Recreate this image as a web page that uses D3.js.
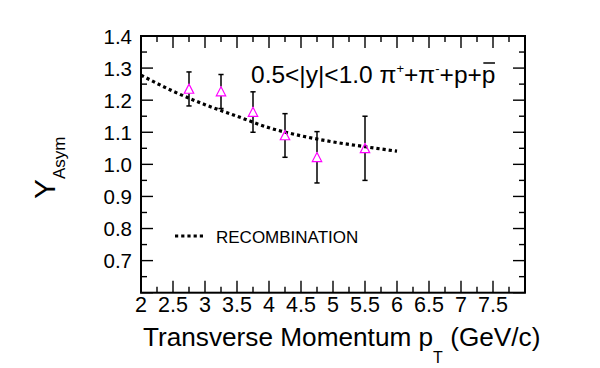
<!DOCTYPE html>
<html>
<head>
<meta charset="utf-8" />
<title>Y asym vs pT</title>
<script src="https://cdnjs.cloudflare.com/ajax/libs/d3/7.8.5/d3.min.js"></script>
<style>
html, body { margin: 0; padding: 0; background: #fff; }
svg { display: block; }
text { font-family: "Liberation Sans", Arial, Helvetica, sans-serif; fill: #000; }
</style>
</head>
<body>
<svg id="chart" width="600" height="368"></svg>
<script>
// data points (open triangles)
var ptVals = [2.75, 3.25, 3.75, 4.25, 4.75, 5.5];
var yVals = [1.235, 1.227, 1.163, 1.090, 1.022, 1.050];
var yErrs = [0.053, 0.053, 0.063, 0.068, 0.080, 0.100];

// recombination curve
var recoPt = [2.0, 2.5, 3.0, 3.5, 4.0, 4.5, 5.0, 5.5, 6.0];
var recoY = [1.278, 1.228, 1.186, 1.150, 1.114, 1.089, 1.070, 1.055, 1.041];

var xTicks = [2, 2.5, 3, 3.5, 4, 4.5, 5, 5.5, 6, 6.5, 7, 7.5];
var yTicks = [0.7, 0.8, 0.9, 1.0, 1.1, 1.2, 1.3, 1.4];

var svg = d3.select("#chart");

var x = d3.scaleLinear().domain([2, 8]).range([141, 525]);
var y = d3.scaleLinear().domain([0.6, 1.4]).range([292.7, 36]);

var L = x.range()[0], R = x.range()[1], T = y.range()[1], B = y.range()[0];

// ticks, ROOT style (inward, mirrored)
var g = svg.append("g").attr("stroke", "#000").attr("stroke-width", 1.4);
d3.range(0, 25).forEach(function(i) {
  var v = 2 + i * 0.25;
  var len = (i % 2 === 0) ? 12 : 6;
  g.append("line").attr("x1", x(v)).attr("x2", x(v)).attr("y1", B).attr("y2", B - len);
  g.append("line").attr("x1", x(v)).attr("x2", x(v)).attr("y1", T).attr("y2", T + len);
});
d3.range(0, 17).forEach(function(i) {
  var v = 0.6 + i * 0.05;
  var len = (i % 2 === 0) ? 12 : 6;
  g.append("line").attr("y1", y(v)).attr("y2", y(v)).attr("x1", L).attr("x2", L + len);
  g.append("line").attr("y1", y(v)).attr("y2", y(v)).attr("x1", R).attr("x2", R - len);
});

// frame
svg.append("rect")
  .attr("x", L).attr("y", T).attr("width", R - L).attr("height", B - T)
  .attr("fill", "none").attr("stroke", "#000").attr("stroke-width", 2);

// tick labels
svg.append("g").selectAll("text").data(xTicks).join("text")
  .attr("x", function(d) { return x(d); })
  .attr("y", B + 19)
  .attr("text-anchor", "middle")
  .attr("font-size", 21.5)
  .text(function(d) { return d; });

svg.append("g").selectAll("text").data(yTicks).join("text")
  .attr("x", L - 9)
  .attr("y", function(d) { return y(d) + 7.5; })
  .attr("text-anchor", "end")
  .attr("font-size", 20.5)
  .text(function(d) { return d3.format(".1f")(d); });

// axis titles
var xt = svg.append("text").attr("x", 143).attr("y", 346).attr("font-size", 26.2);
xt.append("tspan").text("Transverse Momentum p");
xt.append("tspan").attr("font-size", 16).attr("dy", 17).text("T");
xt.append("tspan").attr("dy", -17).text(" (GeV/c)");

var yt = svg.append("text").attr("transform", "translate(55,199) rotate(-90)").attr("font-size", 30);
yt.append("tspan").text("Y");
yt.append("tspan").attr("font-size", 17).attr("dy", 10).text("Asym");

// recombination curve
var line = d3.line()
  .x(function(d, i) { return x(recoPt[i]); })
  .y(function(d) { return y(d); })
  .curve(d3.curveMonotoneX);

svg.append("path")
  .attr("d", line(recoY))
  .attr("fill", "none")
  .attr("stroke", "#000")
  .attr("stroke-width", 3.2)
  .attr("stroke-dasharray", "3.2,3");

// error bars (not drawn through the marker)
var eb = svg.append("g").attr("stroke", "#000").attr("stroke-width", 1.5);
ptVals.forEach(function(p, i) {
  var cx = x(p), cy = y(yVals[i]);
  var top = y(yVals[i] + yErrs[i]), bot = y(yVals[i] - yErrs[i]);
  eb.append("line").attr("x1", cx).attr("x2", cx).attr("y1", top).attr("y2", cy - 5);
  eb.append("line").attr("x1", cx).attr("x2", cx).attr("y1", cy + 4.5).attr("y2", bot);
  eb.append("line").attr("x1", cx - 2.6).attr("x2", cx + 2.6).attr("y1", top).attr("y2", top);
  eb.append("line").attr("x1", cx - 2.6).attr("x2", cx + 2.6).attr("y1", bot).attr("y2", bot);
});

// markers
svg.append("g").selectAll("path").data(ptVals).join("path")
  .attr("transform", function(d, i) { return "translate(" + x(d) + "," + y(yVals[i]) + ")"; })
  .attr("d", "M0,-4.8L4.7,4.3L-4.7,4.3Z")
  .attr("fill", "none")
  .attr("stroke", "#ff00ff")
  .attr("stroke-width", 1.2);

// label
var lab = svg.append("text").attr("x", 251).attr("y", 83).attr("font-size", 24.5);
lab.append("tspan").text("0.5<|y|<1.0 \u03c0");
lab.append("tspan").attr("font-size", 13).attr("dy", -10).text("+");
lab.append("tspan").attr("dy", 10).text("+\u03c0");
lab.append("tspan").attr("font-size", 13).attr("dy", -10).text("-");
lab.append("tspan").attr("dy", 10).text("+p+");
var labEnd = 251 + lab.node().getComputedTextLength();
var pbar = svg.append("text").attr("x", labEnd).attr("y", 83).attr("font-size", 24.5).text("p");
var pw = pbar.node().getComputedTextLength();
svg.append("line")
  .attr("x1", labEnd + 1.5).attr("x2", labEnd + pw - 0.5)
  .attr("y1", 63).attr("y2", 63)
  .attr("stroke", "#000").attr("stroke-width", 1.5);

// legend
svg.append("line")
  .attr("x1", 175).attr("x2", 205).attr("y1", 236).attr("y2", 236)
  .attr("stroke", "#000").attr("stroke-width", 3.2)
  .attr("stroke-dasharray", "3.2,3");
svg.append("text").attr("x", 216).attr("y", 242.5).attr("font-size", 17).text("RECOMBINATION");
</script>
</body>
</html>
